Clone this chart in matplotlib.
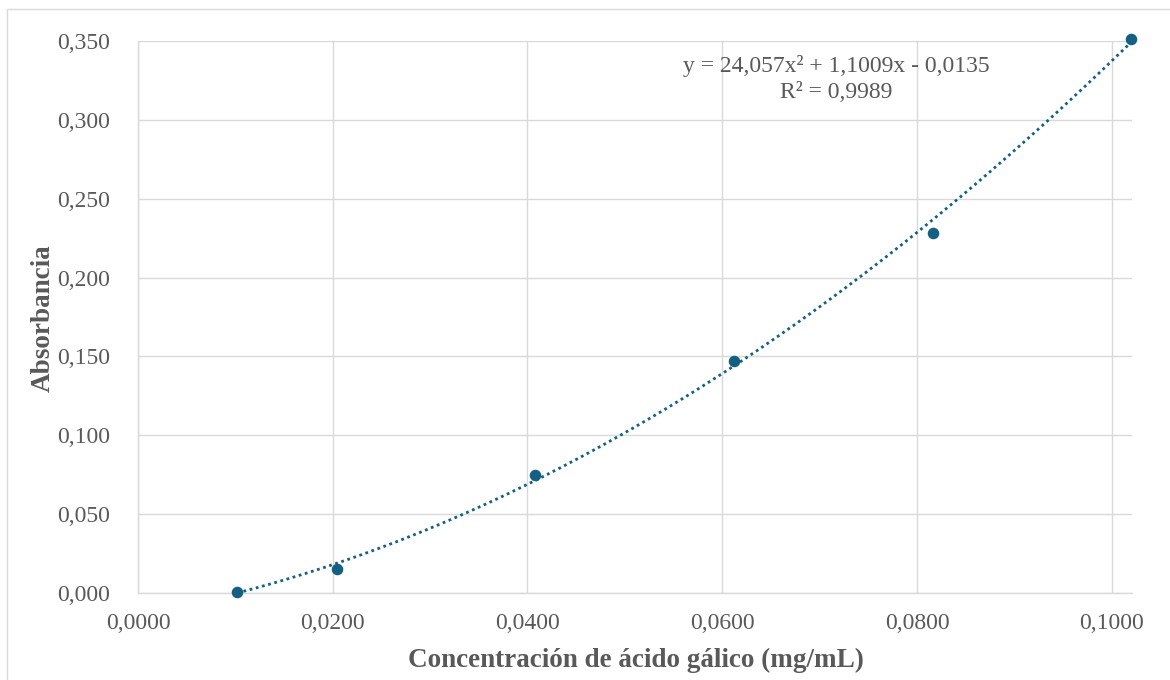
import numpy as np
import matplotlib
matplotlib.use("Agg")
import matplotlib.pyplot as plt
from matplotlib.ticker import FuncFormatter, MultipleLocator
from matplotlib.patches import Rectangle

# Data
concentracion = [0.0102, 0.0204, 0.0408, 0.0612, 0.0816, 0.1020]
absorbancia = [0.001, 0.0153, 0.0750, 0.1472, 0.2284, 0.3510]
coef = [24.057, 1.1009, -0.0135]
ecuacion = "y = 24,057x² + 1,1009x - 0,0135"
r2_text = "R² = 0,9989"
xlabel = "Concentración de ácido gálico (mg/mL)"
ylabel = "Absorbancia"

color = "#156082"
txt = "#595959"
grid = "#d9d9d9"

plt.rcParams['font.family'] = ['Liberation Serif', 'DejaVu Serif']

fig = plt.figure(figsize=(11.7, 6.8), dpi=100)
ax = fig.add_axes([137.95/1170, 1-593.3/680, (1131.7-137.95)/1170, (593.3-40.7)/680])

x = np.array(concentracion)
xs = np.linspace(x.min(), x.max(), 300)
ys = np.polyval(coef, xs)
ax.plot(xs, ys, linestyle=(0, (1, 1.3)), color=color, lw=2, zorder=3, clip_on=False)
ax.plot(concentracion, absorbancia, 'o', color=color, ms=7.3, zorder=4, clip_on=False)

ax.set_xlim(0, 0.10205)
ax.set_ylim(0, 0.35)
ax.xaxis.set_major_locator(MultipleLocator(0.02))
ax.yaxis.set_major_locator(MultipleLocator(0.05))
ax.xaxis.set_major_formatter(FuncFormatter(lambda v, p: f"{v:.4f}".replace('.', ',')))
ax.yaxis.set_major_formatter(FuncFormatter(lambda v, p: f"{v:.3f}".replace('.', ',')))
ax.grid(True, color=grid, lw=1)
ax.set_axisbelow(True)
for s in ['top', 'right']:
    ax.spines[s].set_visible(False)
for s in ['left', 'bottom']:
    ax.spines[s].set_color(grid)
    ax.spines[s].set_linewidth(1)
ax.tick_params(length=0, labelsize=17, labelcolor=txt)
ax.tick_params(axis='x', pad=14)
ax.tick_params(axis='y', pad=20)

ax.set_xlabel(xlabel, fontsize=19.5, fontweight='bold', color=txt, va='center')
ax.set_ylabel(ylabel, fontsize=19.5, fontweight='bold', color=txt, va='center')
ax.xaxis.set_label_coords((635.5-137.95)/993.75, (593.3-660)/552.6)
ax.yaxis.set_label_coords((43-137.95)/993.75, (593.3-318)/552.6)

fig.text(836/1170, 1-65.7/680, ecuacion, ha='center', va='center', fontsize=17, color=txt)
fig.text(836/1170, 1-92/680, r2_text, ha='center', va='center', fontsize=17, color=txt)

fig.patches.append(Rectangle((7/1170, -0.1), 1.2, 1.1 - 9/680,
                             transform=fig.transFigure, fill=False, edgecolor=grid, lw=1))

fig.savefig("out.png", dpi=100)
